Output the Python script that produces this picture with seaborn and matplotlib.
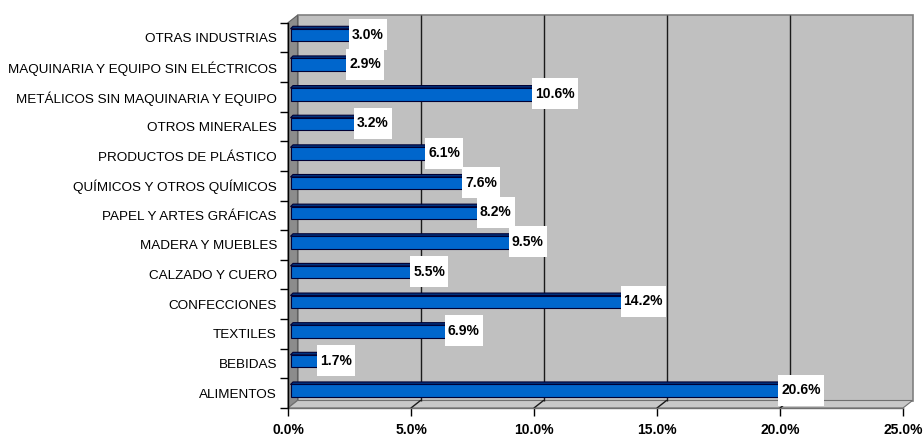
import matplotlib
matplotlib.use("Agg")
import matplotlib.pyplot as plt
import seaborn as sns
import pandas as pd
from matplotlib.patches import Polygon, Rectangle
from matplotlib.transforms import offset_copy

categories = ["OTRAS INDUSTRIAS", "MAQUINARIA Y EQUIPO SIN ELÉCTRICOS",
              "METÁLICOS SIN MAQUINARIA Y EQUIPO", "OTROS MINERALES",
              "PRODUCTOS DE PLÁSTICO", "QUÍMICOS Y OTROS QUÍMICOS",
              "PAPEL Y ARTES GRÁFICAS", "MADERA Y MUEBLES", "CALZADO Y CUERO",
              "CONFECCIONES", "TEXTILES", "BEBIDAS", "ALIMENTOS"]
values = [3.0, 2.9, 10.6, 3.2, 6.1, 7.6, 8.2, 9.5, 5.5, 14.2, 6.9, 1.7, 20.6]
xticks = [0, 5, 10, 15, 20, 25]
xticklabels = ["0.0%", "5.0%", "10.0%", "15.0%", "20.0%", "25.0%"]

sns.set_theme(style="white")
plt.rcParams['font.family'] = ['Liberation Sans', 'DejaVu Sans']

W, H = 923, 437
fig = plt.figure(figsize=(W / 100, H / 100), dpi=100)
fig.patch.set_facecolor("white")

x0p, x1p, ytop, ybot = 288, 903, 22.7, 408
ax = fig.add_axes([x0p / W, 1 - ybot / H, (x1p - x0p) / W, (ybot - ytop) / H])
ax.set_facecolor("none")

df = pd.DataFrame({"cat": categories, "val": values})
sns.barplot(data=df, x="val", y="cat", orient="h", color="#0066CC",
            saturation=1, width=0.42, edgecolor="#000033", linewidth=0.8,
            ax=ax, zorder=2)
ax.set_xlim(0, 25)
ax.set_ylim(len(categories) - 0.5, -0.5)

DX, DY = 9.5, 7.5
back = offset_copy(ax.transAxes, fig=fig, x=DX, y=DY, units="dots")
# back wall
ax.add_patch(Rectangle((0, 0), 1, 1, transform=back, facecolor="#C0C0C0",
                       edgecolor="#808080", lw=1.2, zorder=0.1, clip_on=False))
# left wall
axw = (x1p - x0p); axh = (ybot - ytop)
ddx, ddy = DX / axw, DY / axh
ax.add_patch(Polygon([(0, 0), (0, 1), (ddx, 1 + ddy), (ddx, ddy)], closed=True,
                     transform=ax.transAxes, facecolor="#8C8C8C",
                     edgecolor="#606060", lw=0.8, zorder=0.15, clip_on=False))
# floor
ax.add_patch(Polygon([(0, 0), (1, 0), (1 + ddx, ddy), (ddx, ddy)], closed=True,
                     transform=ax.transAxes, facecolor="#C8C8C8",
                     edgecolor="#707070", lw=0.8, zorder=0.15, clip_on=False))
# back gridlines
backdata = offset_copy(ax.transData, fig=fig, x=DX, y=DY, units="dots")
ax.vlines([5, 10, 15, 20], -0.5, len(categories) - 0.5, transform=backdata,
          colors="#1a1a1a", lw=1.0, zorder=0.2, clip_on=False)
# floor diagonals
pxx = axw / 25.0
pxy = axh / len(categories)
for v in xticks[1:-1]:
    ax.plot([v, v + DX / pxx], [len(categories) - 0.5, len(categories) - 0.5 - DY / pxy],
            color="#1a1a1a", lw=1.0, zorder=0.2, clip_on=False)

# bars: shift front face and add top / end faces
d = 2.5
barT = offset_copy(ax.transData, fig=fig, x=d, y=d, units="dots")
ddxv, ddyv = d / pxx, d / pxy
for p in [pp for pp in ax.patches if pp.get_zorder() == 2]:
    p.set_transform(barT)
    bx, by = p.get_x(), p.get_y()
    bw, bh = p.get_width(), p.get_height()
    yt = by  # top edge (inverted axis)
    ax.add_patch(Polygon([(bx, yt), (bx + bw, yt), (bx + bw + ddxv, yt - ddyv),
                          (bx + ddxv, yt - ddyv)], closed=True, transform=barT,
                         facecolor="#003380", edgecolor="#000033", lw=0.8,
                         zorder=2.1, clip_on=False))
    ax.add_patch(Polygon([(bx + bw, yt), (bx + bw, yt + bh),
                          (bx + bw + ddxv, yt + bh - ddyv), (bx + bw + ddxv, yt - ddyv)],
                         closed=True, transform=barT, facecolor="#004C99",
                         edgecolor="#000033", lw=0.8, zorder=2.1, clip_on=False))

# spines / ticks
for s in ["top", "right"]:
    ax.spines[s].set_visible(False)
ax.spines["left"].set_color("black")
ax.spines["left"].set_linewidth(1.0)
ax.spines["bottom"].set_color("#707070")
ax.spines["bottom"].set_linewidth(1.0)
ax.spines["left"].set_zorder(5)

ax.set_xticks(xticks)
ax.set_xticklabels(xticklabels, fontsize=10, fontweight="bold", color="black")
ax.tick_params(axis="x", direction="out", length=5.5, width=1, color="black",
               pad=5.5, bottom=True)
ax.set_yticks(range(len(categories)))
ax.set_yticklabels(categories, fontsize=9.7, color="black")
ax.tick_params(axis="y", which="major", length=0, pad=8, left=True)
ax.set_yticks([i - 0.5 for i in range(len(categories) + 1)], minor=True)
ax.tick_params(axis="y", which="minor", direction="out", length=6, width=1,
               color="black", left=True)
ax.set_xlabel("")
ax.set_ylabel("")

# value labels
labT = offset_copy(ax.transData, fig=fig, x=6, y=3, units="dots")
texts = []
for i, v in enumerate(values):
    t = ax.text(v, i, f"{v:.1f}%", transform=labT, ha="center", va="center",
                fontsize=10, fontweight="bold", color="black", zorder=4,
                clip_on=False)
    texts.append(t)
fig.canvas.draw()
r = fig.canvas.get_renderer()
for i, t in enumerate(texts):
    bb = t.get_window_extent(renderer=r)
    cy = labT.transform((values[i], i))[1]
    rx0 = bb.x0 - 3
    rw = bb.width + 6
    rh = 31
    ax.add_patch(Rectangle((rx0 / W, (cy - rh / 2) / H), rw / W, rh / H,
                           transform=fig.transFigure, facecolor="white",
                           edgecolor="none", zorder=3, clip_on=False))

fig.savefig("out.png", dpi=100, facecolor="white")
